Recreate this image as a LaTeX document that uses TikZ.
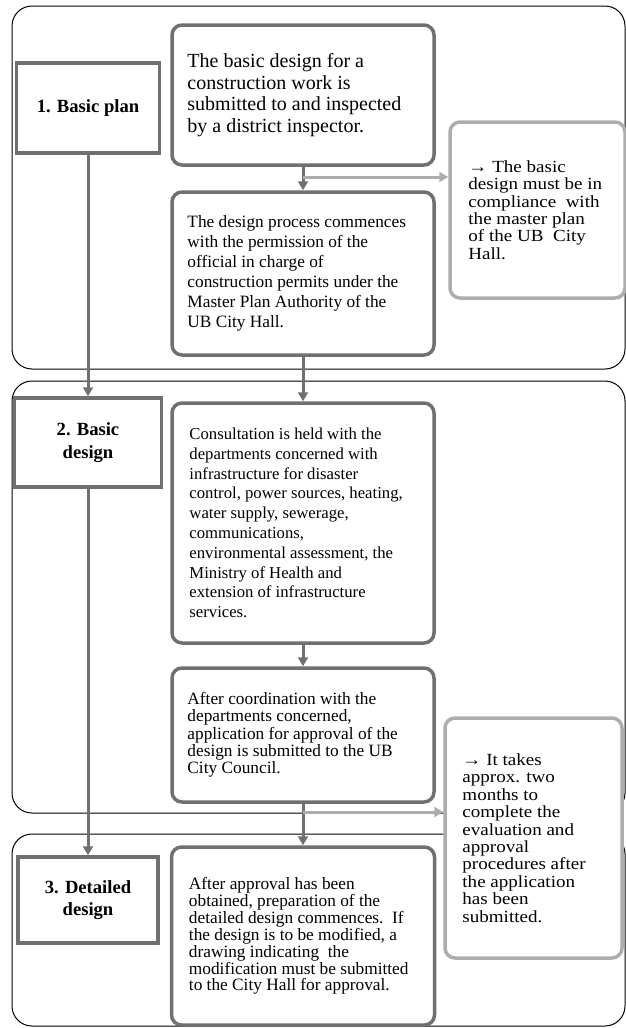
\documentclass[tikz,border=0pt]{standalone}
\usepackage{fontspec}
\setmainfont{Liberation Serif}
\newfontfamily\notefont[FakeStretch=1.12]{Liberation Serif}
\usetikzlibrary{arrows.meta}
\definecolor{boxgray}{HTML}{707070}
\definecolor{notegray}{HTML}{ADADAD}
\begin{document}
\begin{tikzpicture}[x=1pt,y=-1pt,
  panel/.style={draw=black, line width=1pt, rounded corners=20pt},
  stepbox/.style={draw=boxgray, line width=3.5pt, fill=white, align=center, inner sep=0pt,
    font=\bfseries\fontsize{18.6}{22.5}\selectfont},
  procbox/.style={draw=boxgray, line width=3.5pt, fill=white, rounded corners=10pt, inner sep=0pt},
  notebox/.style={draw=notegray, line width=3.5pt, fill=white, rounded corners=10pt, inner sep=0pt},
  txt/.style={anchor=west, align=left, inner sep=0pt},
  flow/.style={draw=boxgray, line width=3pt, -{Triangle[width=10pt,length=9pt]}},
  aside/.style={draw=notegray, line width=3pt, -{Triangle[width=10pt,length=9pt]}},
]
\useasboundingbox (0,0) rectangle (626,1028);

% stage panels
\draw[panel] (12,6) rectangle (625,369);
\draw[panel] (12,381) rectangle (625,813);
\draw[panel] (12,834) rectangle (625,1026);

% stage labels
\node[stepbox, minimum width=143pt, minimum height=90pt] (s1) at (88,108) {1. Basic plan};
\node[stepbox, minimum width=147pt, minimum height=89pt] (s2) at (88,442.5) {2. Basic\\design};
\node[stepbox, minimum width=140pt, minimum height=86pt] (s3) at (88,900) {3. Detailed\\design};

% process steps
\node[procbox, minimum width=262pt, minimum height=140pt] (a) at (303,95) {};
\node[txt, font=\fontsize{20}{21.5}\selectfont] (aT) at ([xshift=17pt]a.west)
  {The basic design for a\\construction work is\\submitted to and inspected\\by a district inspector.};

\node[procbox, minimum width=262pt, minimum height=163pt] (b) at (303,273.5) {};
\node[txt, font=\fontsize{17.3}{20}\selectfont] (bT) at ([xshift=17pt]b.west)
  {The design process commences\\with the permission of the\\official in charge of\\construction permits under the\\Master Plan Authority of the\\UB City Hall.};

\node[procbox, minimum width=262pt, minimum height=240pt] (c) at (303,523) {};
\node[txt, font=\fontsize{16.7}{19.8}\selectfont] (cT) at ([xshift=19pt]c.west)
  {Consultation is held with the\\departments concerned with\\infrastructure for disaster\\control, power sources, heating,\\water supply, sewerage,\\communications,\\environmental assessment, the\\Ministry of Health and\\extension of infrastructure\\services.};

\node[procbox, minimum width=262pt, minimum height=134pt] (d) at (303,735) {};
\node[txt, font=\fontsize{17.3}{17.3}\selectfont] (dT) at ([xshift=17pt]d.west)
  {After coordination with the\\departments concerned,\\application for approval of the\\design is submitted to the UB\\City Council.};

\node[procbox, minimum width=263pt, minimum height=178pt] (e) at (303,936) {};
\node[txt, font=\fontsize{17.3}{16.9}\selectfont] (eT) at ([xshift=19pt]e.west)
  {After approval has been\\obtained, preparation of the\\detailed design commences.\ \ If\\the design is to be modified, a\\drawing indicating\ \ the\\modification must be submitted\\to the City Hall for approval.};

% side notes
\node[notebox, minimum width=175pt, minimum height=176pt] (n1) at (537.5,210) {};
\node[txt, font=\notefont\fontsize{17}{17.4}\selectfont] (n1T) at ([xshift=20pt]n1.west)
  {→ The basic\\design must be in\\compliance\ \ with\\the master plan\\of the UB\ \ City\\Hall.};

\node[notebox, minimum width=177pt, minimum height=240pt] (n2) at (533.5,838) {};
\node[txt, font=\notefont\fontsize{17}{17.4}\selectfont] (n2T) at ([xshift=19pt]n2.west)
  {→ It takes\\approx. two\\months to\\complete the\\evaluation and\\approval\\procedures after\\the application\\has been\\submitted.};

% flow between stages
\draw[flow] (s1) -- (s2);
\draw[flow] (s2) -- (s3);

% flow between steps
\draw[flow] (a) -- (b);
\draw[flow] (b) -- (c);
\draw[flow] (c) -- (d);
\draw[flow] (d) -- (e);

% branches to the notes
\coordinate (tapA) at (303,177);
\coordinate (tapD) at (303,812);
\draw[aside] (tapA) -- (tapA -| n1.west);
\draw[aside] (tapD) -- (tapD -| n2.west);
\end{tikzpicture}
\end{document}
